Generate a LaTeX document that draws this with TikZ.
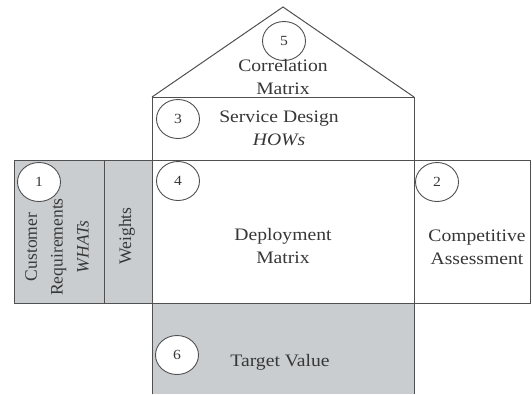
\documentclass[tikz,border=0pt]{standalone}
\usepackage{fontspec}
\setmainfont{Liberation Serif}
\newfontfamily\widefont[FakeStretch=1.12]{Liberation Serif}
\usetikzlibrary{shapes.geometric}
\definecolor{qgrey}{RGB}{202,205,208}
\definecolor{qline}{RGB}{80,80,80}
\definecolor{qtext}{RGB}{55,55,55}
\begin{document}
\begin{tikzpicture}[x=1bp,y=-1bp,
  box/.style={draw=qline,line width=1pt},
  greybox/.style={box,fill=qgrey},
  num/.style={draw=qline,line width=0.9pt,ellipse,minimum width=43bp,minimum height=39bp,inner sep=0pt,fill=white,text=qtext,font=\widefont\fontsize{14}{14}\selectfont},
  lbl/.style={align=center,text=qtext,font=\widefont\fontsize{17.6}{23}\selectfont},
  rlbl/.style={align=center,text=qtext,rotate=90,font=\fontsize{17.6}{26}\selectfont}]
\useasboundingbox (0,0) rectangle (532,394);
\fill[white] (0,0) rectangle (532,394);
% boxes
\draw[greybox] (14,160) rectangle (104,303);
\draw[greybox] (104,160) rectangle (152,303);
\draw[box] (152,160) rectangle (414,303);
\draw[box] (414,160) rectangle (530,303);
\draw[box] (152,97) rectangle (414,160);
\draw[box] (152,97) -- (283,7) -- (414,97);
\fill[qgrey] (152,303) rectangle (414,394);
\draw[box] (152,394) -- (152,303) -- (414,303) -- (414,394);
% numbers
\node[num] (n5) at (284,41) {5};
\node[num] (n3) at (178,119) {3};
\node[num] (n1) at (39,182) {1};
\node[num] (n4) at (178,181) {4};
\node[num] (n2) at (437,182) {2};
\node[num] (n6) at (177,355) {6};
% labels
\node[lbl] (corr) at (283,77) {Correlation\\Matrix};
\node[lbl] (serv) at (279,128) {Service Design\\\textit{HOWs}};
\node[lbl] (dep) at (283,246) {Deployment\\Matrix};
\node[lbl] (comp) at (477,247) {Competitive\\Assessment};
\node[rlbl] (cust) at (57,247) {Customer\\Requirements\\\textit{WHATs}};
\node[rlbl] (wts) at (127,236) {Weights};
\node[lbl] (tv) at (280,362) {Target Value};
\end{tikzpicture}
\end{document}
